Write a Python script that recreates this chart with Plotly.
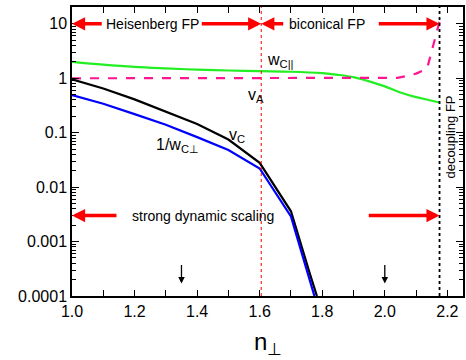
import numpy as np
import plotly.graph_objects as go

# ---- data ----
n_green = [1.0, 1.1, 1.2, 1.3, 1.4, 1.5, 1.6, 1.7, 1.8, 1.85, 1.9, 1.95, 2.0, 2.05, 2.1, 2.14, 2.175]
w_par = [2.0, 1.78, 1.62, 1.52, 1.44, 1.39, 1.35, 1.32, 1.24, 1.16, 1.05, 0.88, 0.71, 0.55, 0.45, 0.40, 0.36]

n_mag = [1.0, 1.2, 1.4, 1.6, 1.8, 2.0, 2.04, 2.07, 2.1, 2.135, 2.151, 2.164, 2.172, 2.175]
v_A = [1.0, 1.0, 1.0, 1.0, 1.0, 1.0, 1.02, 1.1, 1.22, 1.5, 3.3, 6.6, 9.4, 11.0]

n_black = [1.0, 1.1, 1.2, 1.3, 1.4, 1.5, 1.6, 1.7, 1.74, 1.76, 1.783]
v_C = [0.96, 0.65, 0.41, 0.245, 0.145, 0.075, 0.028, 0.0036, 0.0006, 0.00026, 0.0001]

n_blue = [1.0, 1.1, 1.2, 1.3, 1.4, 1.5, 1.6, 1.7, 1.735, 1.755, 1.775]
inv_w_perp = [0.49, 0.34, 0.22, 0.14, 0.083, 0.048, 0.022, 0.0029, 0.0006, 0.00025, 0.0001]

n_biconical = 1.605      # boundary Heisenberg / biconical
n_decoupling = 2.175     # decoupling FP
n_marks = [1.35, 2.0]    # small black arrows

y_tickvals = [1e-4, 1e-3, 1e-2, 1e-1, 1, 10]
y_ticktext = ["0.0001", "0.001", "0.01", "0.1", "1", "10"]

FONT = "Liberation Sans, Arial, sans-serif"
L = np.log10

fig = go.Figure()
fig.add_trace(go.Scatter(x=n_green, y=w_par, mode="lines", line=dict(color="#22EE22", width=2.2), line_shape="spline"))
fig.add_trace(go.Scatter(x=n_mag, y=v_A, mode="lines", line=dict(color="#FF1493", width=2.2, dash="dash")))
fig.add_trace(go.Scatter(x=n_black, y=v_C, mode="lines", line=dict(color="black", width=2.2)))
fig.add_trace(go.Scatter(x=n_blue, y=inv_w_perp, mode="lines", line=dict(color="#0000FF", width=2.2)))

# vertical lines
fig.add_shape(type="line", xref="x", yref="paper", x0=n_biconical, x1=n_biconical, y0=0, y1=1,
              line=dict(color="red", width=1, dash="dot"))
fig.add_shape(type="line", xref="x", yref="paper", x0=n_decoupling, x1=n_decoupling, y0=0, y1=1,
              line=dict(color="black", width=1.8, dash="dot"))

ann = []
def red_arrow(x_head, x_tail, yval):
    ann.append(dict(x=x_head, y=L(yval), xref="x", yref="y", ax=x_tail, ay=0, axref="x", ayref="pixel",
                    showarrow=True, arrowhead=2, arrowwidth=3.5, arrowsize=0.75, arrowcolor="red", text=""))

red_arrow(1.0, 1.10, 10)
red_arrow(n_biconical, 1.41, 10)
red_arrow(n_biconical, 1.68, 10)
red_arrow(n_decoupling, 1.976, 10)
red_arrow(1.0, 1.147, 0.003)
red_arrow(n_decoupling, 1.944, 0.003)

for xm in n_marks:
    ann.append(dict(x=xm, y=L(0.00017), xref="x", yref="y", ax=0, ay=-20, axref="pixel", ayref="pixel",
                    showarrow=True, arrowhead=2, arrowwidth=1.3, arrowsize=1, arrowcolor="black", text=""))

def txt(x, y, s, size=14, xanchor="center", angle=0):
    ann.append(dict(x=x, y=y, xref="x", yref="y", text=s, showarrow=False, xanchor=xanchor, yanchor="middle",
                    textangle=angle, font=dict(family=FONT, size=size, color="black")))

txt(1.256, L(10), "Heisenberg FP")
txt(1.816, L(10), "biconical FP")
txt(1.42, L(0.003), "strong dynamic scaling")
txt(1.617, 0.33, "w<sub>C||</sub>", size=16, xanchor="left")
txt(1.556, -0.31, "v<sub>A</sub>", size=16, xanchor="left")
txt(1.497, -1.06, "v<sub>C</sub>", size=16, xanchor="left")
txt(1.262, -1.24, "1/w<sub>C⊥</sub>", size=16, xanchor="left")
txt(2.21, -1.08, "decoupling FP", size=13, angle=-90)

# x-axis title as paper annotation
ann.append(dict(x=0.5, y=-0.165, xref="paper", yref="paper", text="n<sub>⊥</sub>", showarrow=False,
                xanchor="center", yanchor="middle", font=dict(family=FONT, size=24, color="black")))

fig.update_layout(
    annotations=ann,
    width=466, height=360,
    margin=dict(l=72, r=3, t=7, b=64),
    paper_bgcolor="white", plot_bgcolor="white",
    showlegend=False,
    font=dict(family=FONT, size=16, color="black"),
)
fig.update_xaxes(range=[1.0, 2.25], tick0=1.0, dtick=0.2, tickformat=".1f",
                 ticks="inside", ticklen=6, tickwidth=1.2, tickcolor="black",
                 minor=dict(dtick=0.1, ticks="inside", ticklen=6, tickwidth=1.2, tickcolor="black", showgrid=False),
                 showline=True, linecolor="black", linewidth=1.5, mirror="allticks",
                 showgrid=False, zeroline=False, automargin=False,
                 tickfont=dict(family=FONT, size=16))
fig.update_yaxes(type="log", range=[-4, 1.31], tickmode="array", tickvals=y_tickvals, ticktext=y_ticktext,
                 ticks="inside", ticklen=7, tickwidth=1.2, tickcolor="black",
                 minor=dict(dtick="D1", ticks="inside", ticklen=4, tickwidth=1, tickcolor="black", showgrid=False),
                 showline=True, linecolor="black", linewidth=1.5, mirror="allticks",
                 showgrid=False, zeroline=False, automargin=False,
                 tickfont=dict(family=FONT, size=16))

fig.write_html("out.html")
